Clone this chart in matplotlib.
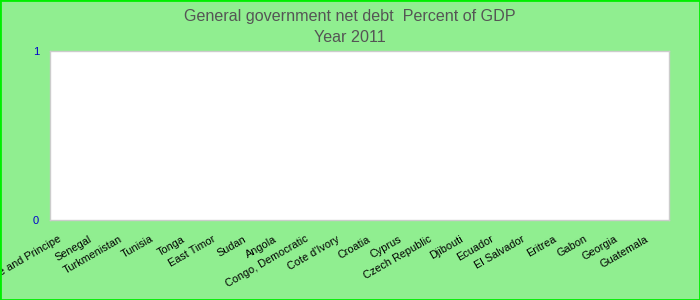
import matplotlib
matplotlib.use('Agg')
import matplotlib.pyplot as plt
import matplotlib.transforms as mtransforms
import numpy as np

plt.rcParams['font.family'] = ['Liberation Sans', 'DejaVu Sans']

countries = ['Sao Tome and Principe', 'Senegal', 'Turkmenistan', 'Tunisia', 'Tonga',
             'East Timor', 'Sudan', 'Angola', 'Congo, Democratic', "Cote d'Ivory",
             'Croatia', 'Cyprus', 'Czech Republic', 'Djibouti', 'Ecuador',
             'El Salvador', 'Eritrea', 'Gabon', 'Georgia', 'Guatemala']
# no values shown for 2011
net_debt = [np.nan] * len(countries)
y_ticks = [0, 1]

fig = plt.figure(figsize=(7, 3), dpi=100, facecolor='#90ee90')
ax = fig.add_axes([50 / 700, 80 / 300, 619 / 700, 169 / 300])
ax.set_facecolor('white')

x = np.arange(len(countries))
ax.bar(x, net_debt, color='#4572a7', linewidth=0)
ax.set_xlim(-0.5, len(countries) - 0.5)
ax.set_ylim(0, 1)

ax.set_yticks(y_ticks)
ax.set_yticklabels([str(v) for v in y_ticks], color='#0000cc', fontsize=8)
ax.tick_params(axis='y', length=0, pad=8)
ax.set_xticks(x)
ax.set_xticklabels(countries, rotation=30, ha='right', rotation_mode='anchor', fontsize=7.8)
ax.tick_params(axis='x', length=0, pad=10)
shift = mtransforms.ScaledTranslation(-8 / 100, 0, fig.dpi_scale_trans)
for lbl in ax.get_xticklabels():
    lbl.set_transform(lbl.get_transform() + shift)

for s in ax.spines.values():
    s.set_color('#cccccc')
    s.set_linewidth(1)

fig.text(0.5, 1 - 16 / 300, 'General government net debt  Percent of GDP',
         ha='center', va='center', fontsize=11.6, color='#555555')
fig.text(0.5, 1 - 37 / 300, 'Year 2011', ha='center', va='center', fontsize=11.6, color='#555555')

fig.patches.append(plt.Rectangle((0, 0), 1, 1, transform=fig.transFigure, fill=False,
                                 edgecolor='#00ee00', linewidth=2, zorder=10))

fig.savefig('out.png', dpi=100, facecolor=fig.get_facecolor())
